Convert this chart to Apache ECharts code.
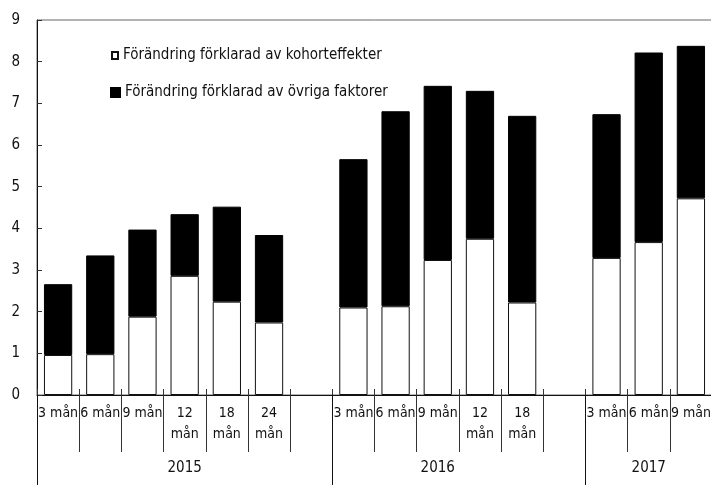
<!DOCTYPE html>
<html>
<head>
<meta charset="utf-8">
<script src="https://cdn.jsdelivr.net/npm/echarts@6/dist/echarts.min.js"></script>
<style>
  html, body { margin: 0; padding: 0; background: #fff; }
  #chart { width: 711px; height: 485px; }
</style>
</head>
<body>
<div id="chart"></div>
<script>
    "use strict";

    // one slot per bar, empty slots separate the years
    var categories = ['3 mån', '6 mån', '9 mån', '12\nmån', '18\nmån', '24\nmån', '',
        '3 mån', '6 mån', '9 mån', '12\nmån', '18\nmån', '',
        '3 mån', '6 mån', '9 mån'];
    var kohort = [0.96, 0.98, 1.88, 2.86, 2.24, 1.74, null,
        2.10, 2.13, 3.24, 3.75, 2.22, null,
        3.29, 3.67, 4.72];
    var ovriga = [1.70, 2.37, 2.09, 1.48, 2.28, 2.10, null,
        3.56, 4.68, 4.18, 3.55, 4.48, null,
        3.45, 4.55, 3.66];
    var years = ['2015', '2016', '2017'];
    var yearBounds = [0, 7, 13, 16];      // slot edges of the year groups
    var yearCenters = [3.5, 9.5, 14.5];

    var nameKohort = 'Förändring förklarad av kohorteffekter';
    var nameOvriga = 'Förändring förklarad av övriga faktorer';

    var font = "'Liberation Sans Narrow', 'DejaVu Sans Condensed', sans-serif";

    var myChart = echarts.init(document.getElementById('chart'));
    myChart.setOption({
        animation: false,
        textStyle: {fontFamily: font},
        grid: {
            left: 37, top: 20, width: 675, height: 375,
            outerBoundsMode: 'none',
            containLabel: false,
            show: true, borderColor: '#666', borderWidth: 1
        },
        legend: [
            {
                left: 106,
                top: 43,
                itemWidth: 6,
                itemHeight: 7,
                icon: 'rect',
                textStyle: {fontFamily: font, fontSize: 15, color: '#111'},
                data: [nameKohort]
            },
            {
                left: 105,
                top: 80,
                itemWidth: 9,
                itemHeight: 9,
                icon: 'rect',
                textStyle: {fontFamily: font, fontSize: 15, color: '#111'},
                data: [nameOvriga]
            }
        ],
        xAxis: [
            {
                type: 'category',
                position: 'bottom',
                data: categories,
                axisLine: {show: true, lineStyle: {color: '#111', width: 1}},
                axisTick: {show: true, length: 57, interval: 0, lineStyle: {color: '#333'}},
                axisLabel: {
                    interval: 0, margin: 8, fontFamily: font, fontSize: 14,
                    lineHeight: 21, color: '#111'
                }
            },
            {
                type: 'value',
                position: 'bottom',
                min: 0,
                max: 16,
                axisLine: {show: false},
                splitLine: {show: false},
                axisTick: {show: true, customValues: yearBounds, length: 90, lineStyle: {color: '#111'}},
                axisLabel: {
                    customValues: yearCenters, margin: 66, fontFamily: font, fontSize: 15,
                    color: '#111',
                    formatter: function (v) {
                        return years[yearCenters.indexOf(v)];
                    }
                }
            },
            {
                type: 'category',
                position: 'bottom',
                data: categories,
                axisLine: {show: false},
                axisTick: {show: true, inside: true, length: 6, interval: 0, lineStyle: {color: '#333'}},
                axisLabel: {show: false}
            }
        ],
        yAxis: {
            type: 'value',
            min: 0,
            max: 9,
            interval: 1,
            axisLine: {show: true, lineStyle: {color: '#111'}},
            axisTick: {show: true, inside: true, length: 5, lineStyle: {color: '#333'}},
            splitLine: {show: false},
            axisLabel: {margin: 17, fontFamily: font, fontSize: 15, color: '#111'}
        },
        series: [
            {
                name: nameKohort,
                type: 'bar',
                stack: 'total',
                barCategoryGap: '33%',
                itemStyle: {color: '#fff', borderColor: '#111', borderWidth: 1},
                data: kohort
            },
            {
                name: nameOvriga,
                type: 'bar',
                stack: 'total',
                barCategoryGap: '33%',
                itemStyle: {color: '#000', borderColor: '#000', borderWidth: 1},
                data: ovriga
            }
        ]
    });

    window.onresize = function () {
        myChart.resize();
    };
</script>
</body>
</html>
